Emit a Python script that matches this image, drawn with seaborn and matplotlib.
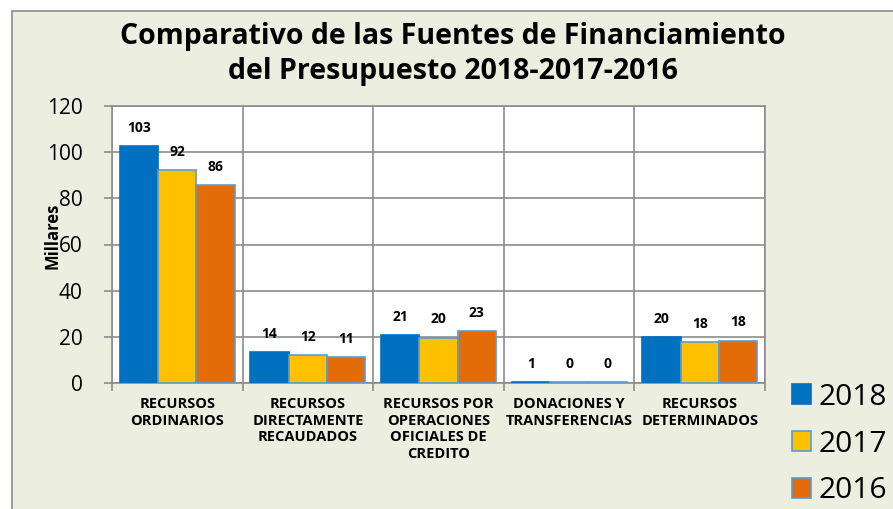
import numpy as np
import pandas as pd
import matplotlib
matplotlib.use("Agg")
import matplotlib.pyplot as plt
from matplotlib.patches import Rectangle
import seaborn as sns

# Datos (en millares)
categorias = [
    "RECURSOS\nORDINARIOS",
    "RECURSOS\nDIRECTAMENTE\nRECAUDADOS",
    "RECURSOS POR\nOPERACIONES\nOFICIALES DE\nCREDITO",
    "DONACIONES Y\nTRANSFERENCIAS",
    "RECURSOS\nDETERMINADOS",
]
anios = ["2018", "2017", "2016"]
valores_2018 = [102.6, 13.6, 20.6, 0.6, 19.8]
valores_2017 = [92.3, 12.0, 19.7, 0.3, 17.7]
valores_2016 = [85.6, 11.4, 22.6, 0.3, 18.4]
colores = ["#0070C0", "#FFC000", "#E36C09"]

df = pd.DataFrame({
    "categoria": categorias * 3,
    "anio": [a for a in anios for _ in categorias],
    "valor": valores_2018 + valores_2017 + valores_2016,
})

sns.set_theme(style="white")
plt.rcParams["font.family"] = ["Open Sans", "DejaVu Sans"]
plt.rcParams["text.color"] = "black"
plt.rcParams["xtick.color"] = "black"
plt.rcParams["ytick.color"] = "black"
plt.rcParams["axes.labelcolor"] = "black"

fig = plt.figure(figsize=(8.93, 5.09), dpi=100)
fig.patch.set_facecolor("white")
fig.patches.append(Rectangle((12 / 893, -0.1), 1.2, 1 - 11 / 509 + 0.1,
                             transform=fig.transFigure, facecolor="#ECEFDF",
                             edgecolor="#8C8C8C", lw=1.2, zorder=-10))

ax = fig.add_axes([112 / 893, 1 - 383 / 509, (765 - 112) / 893, (383 - 106) / 509])
ax.set_facecolor("white")

sns.barplot(data=df, x="categoria", y="valor", hue="anio", hue_order=anios,
            palette=dict(zip(anios, colores)), width=0.88, gap=0, ax=ax,
            saturation=1, errorbar=None, zorder=3)

bordes = ["#0070C0", "#5B9BD5", "#5B9BD5"]
for cont, borde in zip(ax.containers, bordes):
    for p in cont:
        p.set_edgecolor(borde)
        p.set_linewidth(1.2)
    etiquetas = [f"{v:.0f}" for v in cont.datavalues]
    for p, txt in zip(cont, etiquetas):
        ax.annotate(txt, (p.get_x() + p.get_width() / 2, p.get_height()),
                    xytext=(0, 13), textcoords="offset points",
                    ha="center", va="center", fontsize=10, fontweight="bold")

ax.set_ylim(0, 120)
ax.set_yticks(np.arange(0, 121, 20))
ax.set_xlim(-0.5, 4.5)
ax.set_xticks(range(5))
ax.set_xticklabels(categorias, fontsize=10.5, fontweight="bold", linespacing=1.25)
ax.set_xticks(np.arange(-0.5, 5, 1), minor=True)
ax.tick_params(axis="x", which="major", length=0, pad=10)
ax.tick_params(axis="x", which="minor", length=6, color="#8C8C8C", width=1.2, direction="out", bottom=True)
ax.tick_params(axis="y", length=6, color="#8C8C8C", width=1.2, direction="out", left=True,
               labelsize=15, pad=15)
ax.grid(axis="y", which="major", color="#8C8C8C", lw=1.2, zorder=0)
ax.grid(axis="x", which="minor", color="#8C8C8C", lw=1.2, zorder=0)
ax.set_axisbelow(True)
for s in ax.spines.values():
    s.set_color("#8C8C8C")
    s.set_linewidth(1.2)

ax.set_xlabel("")
ax.set_ylabel("Millares", fontsize=12, fontweight="bold")
ax.yaxis.set_label_coords(-0.078, 0.532)

fig.text(453 / 893, 1 - 54 / 509,
         "Comparativo de las Fuentes de Financiamiento\ndel Presupuesto 2018-2017-2016",
         ha="center", va="center", fontsize=20.5, fontweight="bold", linespacing=1.27)

handles, labels = ax.get_legend_handles_labels()
ax.legend_.remove()
leg = fig.legend(handles, labels, loc="center left", bbox_to_anchor=(792 / 893, 1 - 444 / 509),
                 frameon=False, fontsize=21.5, handlelength=0.65, handleheight=0.65,
                 handletextpad=0.25, labelspacing=0.6, borderpad=0, borderaxespad=0)
for h, borde in zip(leg.legend_handles, bordes):
    h.set_edgecolor(borde)
    h.set_linewidth(1.2)

fig.savefig("out.png", dpi=100, facecolor=fig.get_facecolor())
